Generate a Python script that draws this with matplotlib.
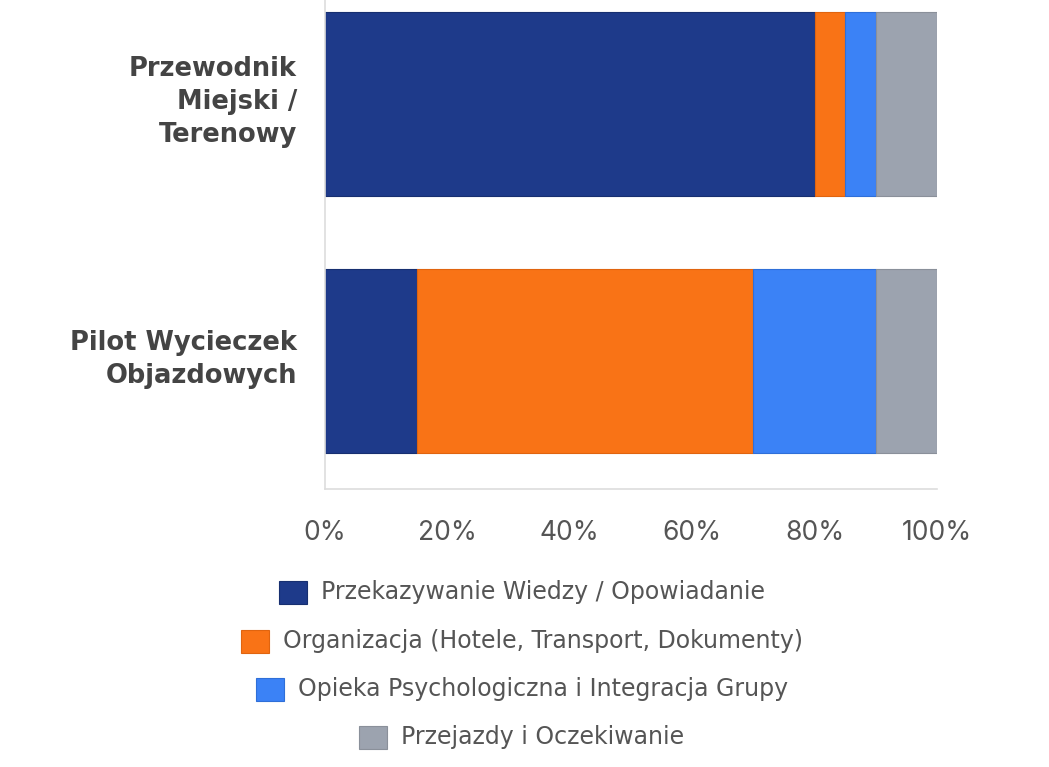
import matplotlib
matplotlib.use("Agg")
import matplotlib.pyplot as plt
import matplotlib.transforms as mtransforms
from matplotlib.patches import Rectangle

categories = ["Przewodnik\nMiejski /\nTerenowy", "Pilot Wycieczek\nObjazdowych"]
series_names = [
    "Przekazywanie Wiedzy / Opowiadanie",
    "Organizacja (Hotele, Transport, Dokumenty)",
    "Opieka Psychologiczna i Integracja Grupy",
    "Przejazdy i Oczekiwanie",
]
values = [
    [80, 15],
    [5, 55],
    [5, 20],
    [10, 10],
]
colors = ["#1e3a8a", "#f97316", "#3b82f6", "#9ca3af"]
edge_colors = ["#172f70", "#e0640f", "#2f6fd8", "#8a909a"]
x_ticks = [0, 20, 40, 60, 80, 100]
x_tick_labels = ["0%", "20%", "40%", "60%", "80%", "100%"]

FONT = ["Inter", "DejaVu Sans"]
plt.rcParams["font.family"] = FONT

W, H = 1049, 767
fig = plt.figure(figsize=(W / 100, H / 100), dpi=100)
ax = fig.add_axes([325 / W, 1 - 489 / H, (937 - 325) / W, 489 / H])

ypos = list(range(len(categories)))
left = [0] * len(categories)
for vals, c, ec in zip(values, colors, edge_colors):
    ax.barh(ypos, vals, left=left, height=0.715, color=c, edgecolor=ec, linewidth=0.8)
    left = [l + v for l, v in zip(left, vals)]

ax.set_xlim(0, 100)
ax.set_ylim(1.496, -0.403)
ax.set_xticks(x_ticks)
ax.set_xticklabels(x_tick_labels, fontsize=19, color="#555555")
ax.set_yticks(ypos)
ax.set_yticklabels([""] * len(ypos))
label_tr = ax.get_yaxis_transform() + mtransforms.ScaledTranslation(-28 / 100, 1.5 / 100, fig.dpi_scale_trans)
for y, cat in zip(ypos, categories):
    ax.text(0, y, cat, transform=label_tr, ha="right", va="center", multialignment="right",
            fontsize=18.5, fontweight="bold", color="#444444", linespacing=1.34,
            family=["DejaVu Sans"])
ax.tick_params(axis="both", length=0)
ax.tick_params(axis="x", pad=22)
for s in ["top", "right"]:
    ax.spines[s].set_visible(False)
for s in ["left", "bottom"]:
    ax.spines[s].set_color("#dddddd")
    ax.spines[s].set_linewidth(1.2)

# Legend: each item centered individually
cx = 522
rows_y = [592, 641, 689, 737]
box_w, box_h = 28, 23
gap = 14
renderer = fig.canvas.get_renderer()
for name, c, ec, ry in zip(series_names, colors, edge_colors, rows_y):
    t = fig.text(0, 0, name, fontsize=17, color="#555555", va="center", ha="left",
                 family=["DejaVu Sans"])
    bb = t.get_window_extent(renderer=renderer)
    tw = bb.width
    total = box_w + gap + tw
    x0 = cx - total / 2
    t.set_position(((x0 + box_w + gap) / W, 1 - ry / H))
    fig.patches.append(Rectangle((x0 / W, 1 - (ry + box_h / 2) / H), box_w / W, box_h / H,
                                 transform=fig.transFigure, facecolor=c, edgecolor=ec,
                                 linewidth=0.8))

fig.savefig("out.png", dpi=100, facecolor="white")
